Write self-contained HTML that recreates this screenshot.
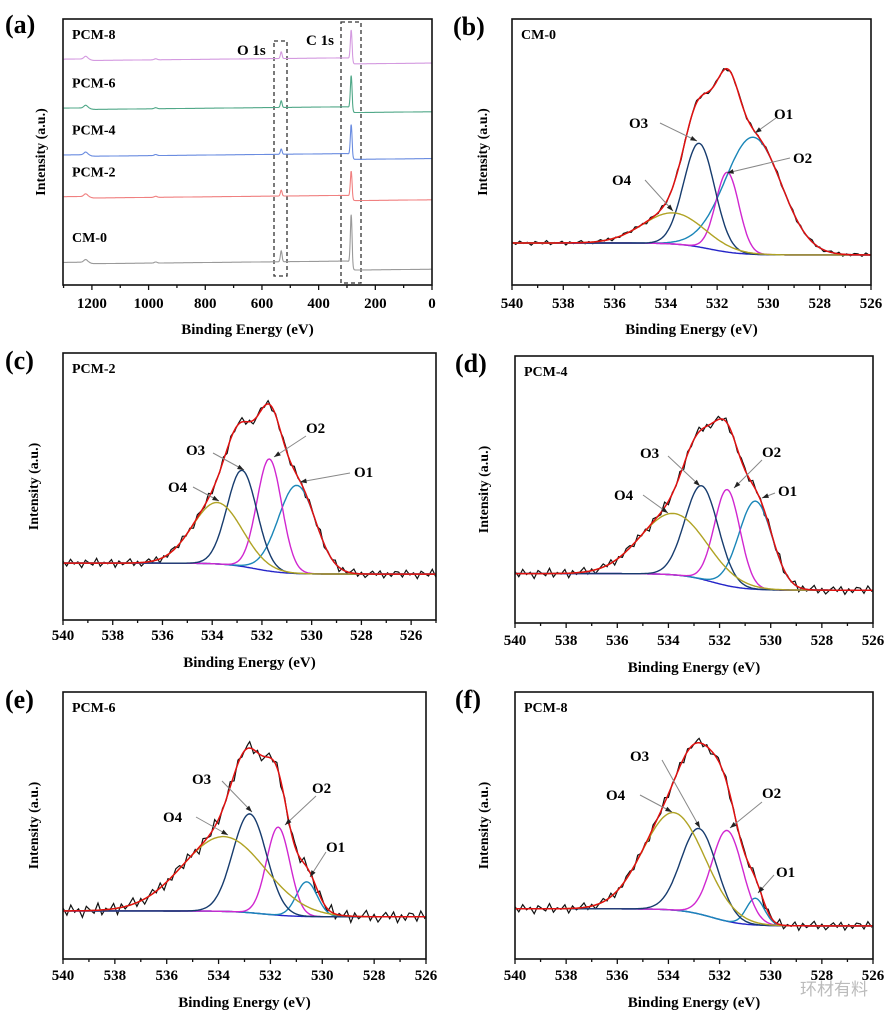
<!DOCTYPE html>
<html><head><meta charset="utf-8"><style>
html,body{margin:0;padding:0;background:#fff;}
svg{display:block;font-family:"Liberation Serif",serif;font-weight:bold;}
</style></head><body>
<svg id="fig" width="895" height="1023" viewBox="0 0 895 1023" xmlns="http://www.w3.org/2000/svg">
<rect width="895" height="1023" fill="#fff"/>
<text x="800" y="995" font-family="'Liberation Sans','Noto Sans CJK SC',sans-serif" font-size="17" fill="#bbb" font-weight="normal">环材有料</text>
</svg>
<script>
// ---- survey (a) data ----
const aSamples = ["CM-0","PCM-2","PCM-4","PCM-6","PCM-8"];
const aOffsets = [7.9, 32.6, 48.3, 65.9, 84.3];
const aC1s = [19.1, 10.1, 12.0, 12.8, 11.6];
const aO1s = [4.1, 2.2, 2.0, 2.5, 2.5];
const aDrops = [3.4, 2.0, 2.2, 2.2, 2.3];
const aColors = ["#9a9a9a","#f08080","#6a8ce0","#50a888","#d49ae0"];
const aTicks = [1200,1000,800,600,400,200,0];
// ---- high-res O1s data: [O1,O2,O3,O4] ----
const bCenters=[530.6,531.6,532.7,533.7], bHeights=[44,30,39,11.7], bSigmas=[1.1,0.45,0.6,1.2], bBg=[15.8,11.3];
const cCenters=[530.6,531.7,532.8,533.8], cHeights=[33,42,36,23], cSigmas=[0.75,0.5,0.6,1.0], cBg=[21.3,17.2];
const dCenters=[530.6,531.7,532.7,533.8], dHeights=[33,36,35,23], dSigmas=[0.65,0.5,0.65,1.3], dBg=[18.5,12.3];
const eCenters=[530.6,531.7,532.8,533.8], eHeights=[13,33,37,28], eSigmas=[0.4,0.45,0.65,1.6], eBg=[18,15.8];
const fCenters=[530.6,531.7,532.8,533.8], fHeights=[10,34,32,36.5], fSigmas=[0.35,0.6,0.7,1.2], fBg=[18.8,12.4];
const eTicks=[540,538,536,534,532,530,528,526];
const noiseVals=[0.6,-0.9,1.2,-0.3,0.4,-1.4,0.9,0.1,-0.6,1.5,-1.0,0.3,-0.2,1.1,-1.3,0.7,-0.5,0.2,1.3,-0.8,0.5,-1.1,0.0,0.9,-0.4,1.0,-1.2,0.4,-0.7,0.8];

const NS="http://www.w3.org/2000/svg";
const svg=document.getElementById('fig');
function mk(tag,attrs,parent){const e=document.createElementNS(NS,tag);for(const k in attrs)e.setAttribute(k,attrs[k]);(parent||svg).appendChild(e);return e;}
function txt(x,y,s,size,anchor,parent){const t=mk('text',{x:x,y:y,'font-size':size,'text-anchor':anchor||'start'},parent);t.textContent=s;return t;}
function noiseAt(i){const f=i/3;const a=Math.floor(f);const w=f-a;const n=noiseVals.length;return noiseVals[a%n]*(1-w)+noiseVals[(a+1)%n]*w;}

function frame(g,box){
  const r=mk('rect',{x:box.l,y:box.t,width:box.r-box.l,height:box.b-box.t,fill:'none',stroke:'#111','stroke-width':1.6},g);
  
  
}
function ylab(g,x,box){
  const t=txt(0,0,'Intensity (a.u.)',14,'middle',g);
  t.setAttribute('transform',`translate(${x},${(box.t+box.b)/2}) rotate(-90)`);
  
  
}

// ---- panel (a) ----
(function(){
  const box={l:63,r:432,t:19,b:285};
  const g=mk('g',{});
  
  
  const X=v=>box.l+(1302-v)/1302*(box.r-box.l);
  const Y=v=>box.b-v/100*(box.b-box.t);
  const pl=txt(5,33,'(a)',26,'start',g);
  
  
  const d1=mk('rect',{x:274,y:41,width:13,height:235,fill:'none',stroke:'#333','stroke-width':1.3,'stroke-dasharray':'4,3'},g);
  
  
  const d2=mk('rect',{x:341,y:22,width:20,height:261,fill:'none',stroke:'#333','stroke-width':1.3,'stroke-dasharray':'4,3'},g);
  
  
  const o=txt(237,55,'O 1s',15,'start',g);
  
  
  const c=txt(306,45,'C 1s',15,'start',g);
  
  
  aSamples.forEach((s,i)=>{
    let d='';
    for(let e=1300;e>=0;e-=1){
      let v=aOffsets[i]+(1300-e)/1000*1.1;
      v+= -aDrops[i]/(1+Math.exp(-(285-e)/3));
      v+= aC1s[i]*Math.exp(-Math.pow(e-285,2)/(2*9));
      v+= aO1s[i]*Math.exp(-Math.pow(e-532,2)/(2*9));
      v+= 1.0*Math.exp(-Math.pow(e-1222,2)/(2*40)) + 0.6/(1+Math.exp((1205-e)/4));
      v+= 0.4*Math.exp(-Math.pow(e-975,2)/(2*25));
      d+=(d?'L':'M')+X(e).toFixed(1)+','+Y(v).toFixed(1);
    }
    const p=mk('path',{d:d,fill:'none',stroke:aColors[i],'stroke-width':1.1},g);
    
    
    const t=txt(72,Y(aOffsets[i])-22,s,14,'start',g);
    
    
  });
  frame(g,box);
  for(let v=0;v<=1300;v+=100){
    const tk=mk('line',{x1:X(v),x2:X(v),y1:box.b,y2:box.b+(v%200===0?5:3),stroke:'#111','stroke-width':1.3},g);
    
    
  }
  aTicks.forEach(v=>{
    const t=txt(X(v),308,String(v),15,'middle',g);
    
    
  });
  const xt=txt((box.l+box.r)/2,334,'Binding Energy (eV)',15,'middle',g);
  
  
  ylab(g,45,box);
})();

// ---- O1s panels ----
const compColors=['#1a86b8','#d027d0','#173c6e','#b0a324'];
function o1sPanel(cfg){
  const {id,letter,name,box,xmin,centers,heights,sigmas,bg,noiseAmp,letterX,ylabX,tickY,titleY,labels}=cfg;
  const g=mk('g',{});
  
  
  const X=v=>box.l+(540-v)/(540-xmin)*(box.r-box.l);
  const Y=v=>box.b-v/100*(box.b-box.t);
  const bgf=e=>bg[1]+(bg[0]-bg[1])/(1+Math.exp(-(e-532.3)/0.6));
  const comp=(k,e)=>heights[k]*Math.exp(-Math.pow(e-centers[k],2)/(2*sigmas[k]*sigmas[k]));
  const pts=[];for(let e=540;e>=xmin-0.001;e-=0.05)pts.push(+e.toFixed(2));
  const path=f=>pts.map((e,i)=>(i?'L':'M')+X(e).toFixed(1)+','+Y(f(e,i)).toFixed(1)).join('');
  const dp=mk('path',{d:path((e,i)=>{let s=bgf(e);for(let k=0;k<4;k++)s+=comp(k,e);return s+noiseAmp*noiseAt(i);}),fill:'none',stroke:'#111','stroke-width':1.2},g);
  
  
  const bp=mk('path',{d:path(e=>bgf(e)),fill:'none',stroke:'#2424c8','stroke-width':1.4},g);
  
  
  ['o1','o2','o3','o4'].forEach((nm,k)=>{
    const p=mk('path',{d:path(e=>bgf(e)+comp(k,e)),fill:'none',stroke:compColors[k],'stroke-width':1.4},g);
    
    
  });
  const tp=mk('path',{d:path(e=>{let s=bgf(e);for(let k=0;k<4;k++)s+=comp(k,e);return s;}),fill:'none',stroke:'#e01010','stroke-width':1.5},g);
  
  
  labels.forEach(L=>{
    const a=mk('line',{x1:L.ax,y1:L.ay,x2:L.bx,y2:L.by,stroke:'#888','stroke-width':1},g);
    
    
    const ang=Math.atan2(L.by-L.ay,L.bx-L.ax);
    const h=mk('polygon',{points:`${L.bx},${L.by} ${L.bx-7*Math.cos(ang-0.35)},${L.by-7*Math.sin(ang-0.35)} ${L.bx-7*Math.cos(ang+0.35)},${L.by-7*Math.sin(ang+0.35)}`,fill:'#222'},g);
    
    
    const t=txt(L.x,L.y,L.t,15,'start',g);
    
    
  });
  frame(g,box);
  const s=txt(box.l+9,box.t+20,name,14,'start',g);
  
  
  const pl=txt(letterX,box.t+16,'('+letter+')',26,'start',g);
  
  
  for(let v=540;v>=xmin;v-=1){
    const tk=mk('line',{x1:X(v),x2:X(v),y1:box.b,y2:box.b+(v%2===0?5:3),stroke:'#111','stroke-width':1.3},g);
    
    
  }
  eTicks.forEach(v=>{
    const t=txt(X(v),tickY,String(v),15,'middle',g);
    
    
  });
  const xt=txt((box.l+box.r)/2,titleY,'Binding Energy (eV)',15,'middle',g);
  
  
  ylab(g,ylabX,box);
}

o1sPanel({id:'b',letter:'b',name:'CM-0',box:{l:512,r:871,t:19,b:285},xmin:526,centers:bCenters,heights:bHeights,sigmas:bSigmas,bg:bBg,noiseAmp:0.6,letterX:453,ylabX:487,tickY:308,titleY:334,
 labels:[{t:'O3',x:629,y:128,ax:660,ay:123,bx:697,by:141},{t:'O1',x:774,y:119,ax:776,ay:118,bx:755,by:133},{t:'O2',x:793,y:163,ax:790,ay:158,bx:727,by:173},{t:'O4',x:612,y:185,ax:645,ay:180,bx:673,by:211}]});
o1sPanel({id:'c',letter:'c',name:'PCM-2',box:{l:63,r:436,t:353,b:620},xmin:525,centers:cCenters,heights:cHeights,sigmas:cSigmas,bg:cBg,noiseAmp:1.2,letterX:5,ylabX:38,tickY:640,titleY:667,
 labels:[{t:'O3',x:186,y:455,ax:213,ay:453,bx:244,by:470},{t:'O2',x:306,y:433,ax:306,ay:436,bx:274,by:457},{t:'O1',x:354,y:477,ax:350,ay:473,bx:300,by:482},{t:'O4',x:168,y:492,ax:193,ay:487,bx:219,by:501}]});
o1sPanel({id:'d',letter:'d',name:'PCM-4',box:{l:515,r:873,t:356,b:623},xmin:526,centers:dCenters,heights:dHeights,sigmas:dSigmas,bg:dBg,noiseAmp:1.3,letterX:455,ylabX:488,tickY:645,titleY:672,
 labels:[{t:'O3',x:640,y:458,ax:668,ay:456,bx:700,by:486},{t:'O2',x:762,y:457,ax:762,ay:460,bx:734,by:488},{t:'O1',x:778,y:496,ax:775,ay:493,bx:762,by:498},{t:'O4',x:614,y:500,ax:643,ay:495,bx:668,by:513}]});
o1sPanel({id:'e',letter:'e',name:'PCM-6',box:{l:63,r:426,t:692,b:959},xmin:526,centers:eCenters,heights:eHeights,sigmas:eSigmas,bg:eBg,noiseAmp:1.8,letterX:5,ylabX:38,tickY:980,titleY:1007,
 labels:[{t:'O3',x:192,y:784,ax:222,ay:781,bx:252,by:812},{t:'O2',x:312,y:793,ax:316,ay:796,bx:285,by:825},{t:'O1',x:326,y:852,ax:326,ay:852,bx:310,by:877},{t:'O4',x:163,y:822,ax:196,ay:817,bx:228,by:835}]});
o1sPanel({id:'f',letter:'f',name:'PCM-8',box:{l:515,r:873,t:692,b:959},xmin:526,centers:fCenters,heights:fHeights,sigmas:fSigmas,bg:fBg,noiseAmp:1.3,letterX:455,ylabX:488,tickY:980,titleY:1007,
 labels:[{t:'O3',x:630,y:761,ax:662,ay:760,bx:700,by:828},{t:'O4',x:606,y:800,ax:640,ay:795,bx:672,by:812},{t:'O2',x:762,y:798,ax:762,ay:802,bx:730,by:828},{t:'O1',x:776,y:877,ax:774,ay:875,bx:758,by:893}]});
</script>
</body></html>
